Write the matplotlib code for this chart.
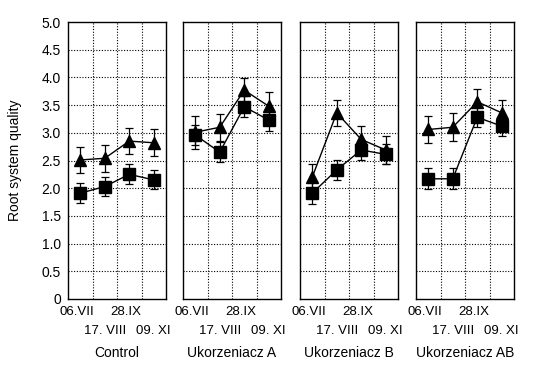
import matplotlib
matplotlib.use("Agg")
import matplotlib.pyplot as plt
import matplotlib.transforms as mtransforms
import numpy as np

plt.rcParams['font.family'] = ['Liberation Sans', 'DejaVu Sans']

panels = ["Control", "Ukorzeniacz A", "Ukorzeniacz B", "Ukorzeniacz AB"]
dates = ["06.VII", "17. VIII", "28.IX", "09. XI"]

tri_vals = [
    [2.51, 2.54, 2.85, 2.82],
    [3.01, 3.10, 3.77, 3.48],
    [2.20, 3.36, 2.88, 2.69],
    [3.06, 3.10, 3.56, 3.36],
]
tri_err = [
    [0.24, 0.24, 0.24, 0.24],
    [0.30, 0.24, 0.22, 0.26],
    [0.23, 0.24, 0.24, 0.25],
    [0.24, 0.25, 0.23, 0.23],
]
sq_vals = [
    [1.91, 2.03, 2.25, 2.15],
    [2.96, 2.65, 3.47, 3.23],
    [1.91, 2.33, 2.69, 2.61],
    [2.17, 2.17, 3.28, 3.12],
]
sq_err = [
    [0.18, 0.17, 0.18, 0.17],
    [0.18, 0.18, 0.19, 0.20],
    [0.20, 0.18, 0.18, 0.18],
    [0.19, 0.19, 0.18, 0.18],
]
yticks = [0, 0.5, 1.0, 1.5, 2.0, 2.5, 3.0, 3.5, 4.0, 4.5, 5.0]
ytick_labels = ["0", "0.5", "1.0", "1.5", "2.0", "2.5", "3.0", "3.5", "4.0", "4.5", "5.0"]

W, H = 534, 369
fig = plt.figure(figsize=(W / 100, H / 100), dpi=100)
lefts = [68, 183, 300, 416]
x = np.arange(4) + 0.5
for i, name in enumerate(panels):
    ax = fig.add_axes([lefts[i] / W, 1 - 299 / H, 98 / W, 277 / H])
    ax.set_xlim(0, 4)
    ax.set_ylim(0, 5)
    for g in [1, 2, 3]:
        ax.axvline(g, color='black', linestyle=(0, (1, 1.5)), linewidth=0.8, zorder=0)
    for yy in yticks[1:-1]:
        ax.axhline(yy, color='black', linestyle=(0, (1, 1.5)), linewidth=0.8, zorder=0)
    ax.errorbar(x, tri_vals[i], yerr=tri_err[i], color='black', marker='^', markersize=8.5,
                linewidth=1, elinewidth=0.9, capsize=3, capthick=0.9, zorder=3)
    ax.errorbar(x, sq_vals[i], yerr=sq_err[i], color='black', marker='s', markersize=8,
                linewidth=1, elinewidth=0.9, capsize=3, capthick=0.9, zorder=4)
    ax.set_xticks(x)
    ax.set_xticklabels([])
    ax.tick_params(axis='both', length=0, pad=5)
    ax.set_yticks(yticks)
    if i == 0:
        ax.set_yticklabels(ytick_labels, fontsize=10)
        ax.set_ylabel("Root system quality", fontsize=10, labelpad=14)
    else:
        ax.set_yticklabels([])
    for s in ax.spines.values():
        s.set_linewidth(1.0)
    trans = mtransforms.blended_transform_factory(ax.transData, fig.transFigure)
    for j, d in enumerate(dates):
        if j % 2 == 0:
            ty = 1 - 312 / H
            off = -0.13
        else:
            ty = 1 - 330.5 / H
            off = 0.0
        ax.text(x[j] + off, ty, d, transform=trans, ha='center', va='center', fontsize=9.5)
    ax.text(0.5, 1 - 353 / H, name, transform=mtransforms.blended_transform_factory(ax.transAxes, fig.transFigure),
            ha='center', va='center', fontsize=10)

fig.savefig("out.png", dpi=100)
